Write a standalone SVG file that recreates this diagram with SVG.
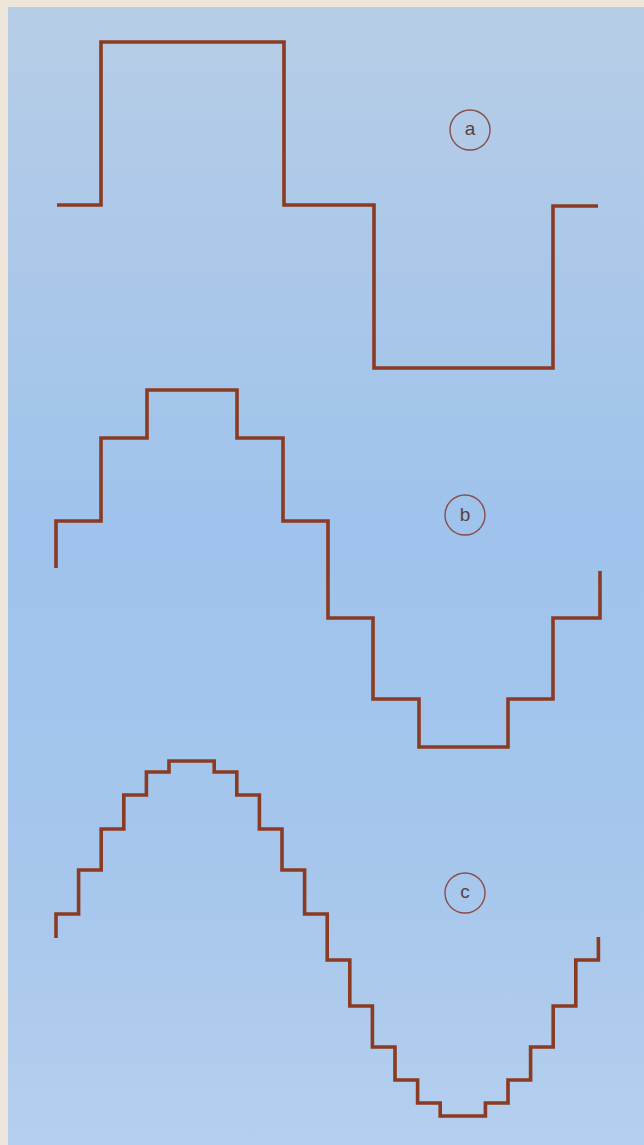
<svg xmlns="http://www.w3.org/2000/svg" width="644" height="1145" viewBox="0 0 644 1145">
  <defs>
    <linearGradient id="bg" x1="0" y1="0" x2="0" y2="1">
      <stop offset="0" stop-color="#b7cde6"/>
      <stop offset="0.45" stop-color="#9fc3ec"/>
      <stop offset="0.75" stop-color="#a6c6ec"/>
      <stop offset="1" stop-color="#b5cfee"/>
    </linearGradient>
    <style>
      .wave { fill: none; stroke: #8b3b22; stroke-width: 3.6; stroke-linejoin: miter; stroke-linecap: butt; }
      .badge circle { fill: none; stroke: #8a4e48; stroke-width: 1.4; }
      .badge text { font-family: "Liberation Sans", "DejaVu Sans", sans-serif; font-size: 19px; fill: #5e3f3c; text-anchor: middle; }
    </style>
  </defs>
  <rect x="0" y="0" width="644" height="1145" fill="#eee5da"/>
  <rect x="8" y="7" width="636" height="1138" fill="url(#bg)"/>

  <g id="connectors">
    <path id="wave-a" class="wave" d="M57,205 H101 V42 H284 V205 H374 V368 H553 V206 H598"/>
    <path id="wave-b" class="wave" d="M56,568 V521 H101 V438 H147 V390 H237 V438 H283 V521 H328 V618 H373 V699 H419 V747 H508 V699 H553 V618 H600 V571"/>
    <path id="wave-c" class="wave" d="M56,938 V914 H78.6 V870 H101.2 V829 H123.8 V795 H146.4 V772 H169 V761 H214.2 V772 H236.8 V795 H259.4 V829 H282 V870 H304.6 V914 H327.2 V960 H349.8 V1006 H372.4 V1047 H395 V1080 H417.6 V1103 H440.2 V1116 H485.4 V1103 H508 V1080 H530.6 V1047 H553.2 V1006 H575.8 V960 H598.4 V937"/>
  </g>

  <g id="label-a" class="badge">
    <circle cx="470" cy="130" r="20"/>
    <text x="470" y="135">a</text>
  </g>
  <g id="label-b" class="badge">
    <circle cx="465" cy="515" r="20"/>
    <text x="465" y="521">b</text>
  </g>
  <g id="label-c" class="badge">
    <circle cx="465" cy="893" r="20"/>
    <text x="465" y="898">c</text>
  </g>
</svg>
